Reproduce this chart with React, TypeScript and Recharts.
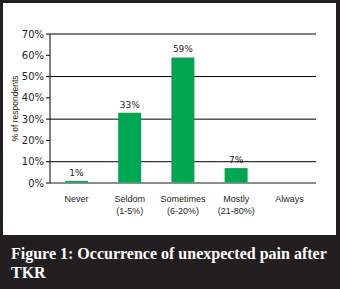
import { BarChart, Bar, XAxis, YAxis, CartesianGrid, LabelList } from 'recharts';

const categories = ['Never', 'Seldom', 'Sometimes', 'Mostly', 'Always'];
const ranges = ['', '(1-5%)', '(6-20%)', '(21-80%)', ''];
const respondents = [1, 33, 59, 7, 0];
const yTicks = [0, 10, 20, 30, 40, 50, 60, 70];

const data = categories.map((name, i) => ({ name, range: ranges[i], value: respondents[i] }));

const CategoryTick = (props: any) => {
  const { x, y, payload } = props;
  const range = ranges[payload.index];
  return (
    <g transform={`translate(${x},${y})`}>
      <text x={0} y={11} textAnchor="middle" fontSize={9} fill="#231f20" fontFamily="Liberation Sans, Arial, sans-serif">
        {payload.value}
      </text>
      {range && (
        <text x={0} y={23} textAnchor="middle" fontSize={9} fill="#231f20" fontFamily="Liberation Sans, Arial, sans-serif">
          {range}
        </text>
      )}
    </g>
  );
};

export default function App() {
  return (
    <div style={{ position: 'absolute', left: 0, top: 0, width: 340, height: 289, background: '#231f20' }}>
      <div style={{ position: 'absolute', left: 3, top: 3, width: 333, height: 232, background: '#fff' }} />
      <div style={{ position: 'absolute', left: 0, top: 0 }}>
        <BarChart width={340} height={235} data={data} margin={{ top: 34, right: 24, left: 0, bottom: 12 }} barSize={23}>
          <CartesianGrid horizontal vertical={false} stroke="#000" strokeWidth={1} />
          <XAxis
            dataKey="name"
            height={40}
            tickLine={false}
            axisLine={{ stroke: '#999' }}
            tick={<CategoryTick />}
            interval={0}
          />
          <YAxis
            width={50}
            domain={[0, 70]}
            ticks={yTicks}
            tickFormatter={(v: number) => `${v}%`}
            axisLine={{ stroke: '#000' }}
            tickLine={{ stroke: '#000' }}
            tickSize={4}
            tick={{ fontSize: 10, fill: '#231f20', fontFamily: 'DejaVu Sans, Verdana, sans-serif' }}
            label={{
              value: '% of respondents',
              angle: -90,
              position: 'insideLeft',
              offset: 15,
              style: { fontSize: 8.5, fill: '#231f20', fontFamily: 'Liberation Sans, Arial, sans-serif', textAnchor: 'middle' },
            }}
          />
          <Bar dataKey="value" fill="#00a651" isAnimationActive={false}>
            <LabelList
              dataKey="value"
              position="top"
              offset={5}
              formatter={(v: any) => (v > 0 ? `${v}%` : '')}
              style={{ fontSize: 9, fill: '#231f20', fontFamily: 'DejaVu Sans, Verdana, sans-serif' }}
            />
          </Bar>
        </BarChart>
      </div>
      <div
        style={{
          position: 'absolute',
          left: 11,
          top: 244,
          width: 326,
          color: '#fff',
          fontFamily: 'Liberation Serif, serif',
          fontWeight: 'bold',
          fontSize: 16,
          lineHeight: '19px',
        }}
      >
        Figure 1: Occurrence of unexpected pain after TKR
      </div>
    </div>
  );
}
